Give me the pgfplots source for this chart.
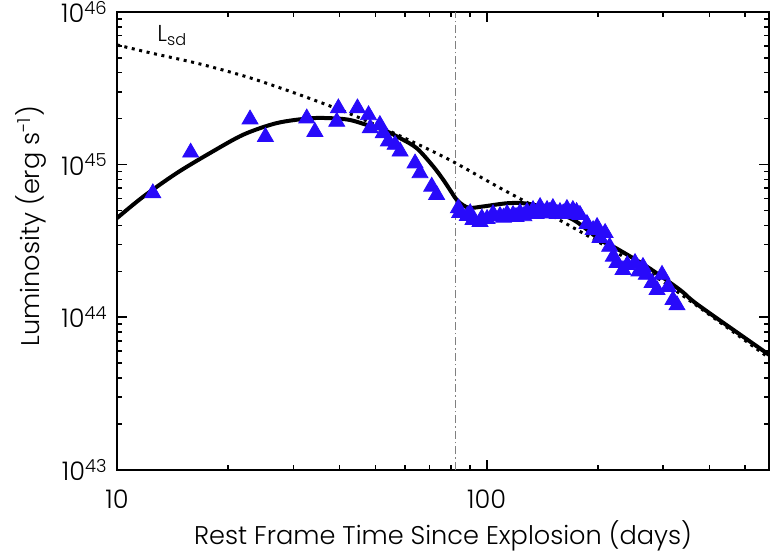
\documentclass[border=0pt]{standalone}
\usepackage{fontspec}
\setmainfont{Poppins}[UprightFont={* Light}]
\usepackage{pgfplots}
\pgfplotsset{compat=1.18}
\definecolor{triblue}{RGB}{40,10,250}
\begin{document}
\fontsize{12.8}{15}\selectfont
\begin{tikzpicture}
\begin{axis}[
  scale only axis, width=326pt, height=229pt,
  xmode=log, ymode=log,
  xmin=10, xmax=580, ymin=1e43, ymax=1e46,
  xtick={10,100}, xticklabels={10,100},
  minor xtick={20,30,40,50,60,70,80,90,200,300,400,500},
  ytick={1e43,1e44,1e45,1e46},
  yticklabels={10\textsuperscript{43},10\textsuperscript{44},10\textsuperscript{45},10\textsuperscript{46}},
  minor ytick={2e43,3e43,4e43,5e43,6e43,7e43,8e43,9e43,2e44,3e44,4e44,5e44,6e44,7e44,8e44,9e44,2e45,3e45,4e45,5e45,6e45,7e45,8e45,9e45},
  tick align=inside, major tick length=5pt, minor tick length=2.5pt,
  every tick/.style={black, line width=0.8pt},
  axis line style={line width=1pt},
  xticklabel style={anchor=north, inner sep=0pt, yshift=-10pt},
  yticklabel style={anchor=east, inner sep=0pt, xshift=-4.5pt},
  xlabel={Rest Frame Time Since Explosion (days)},
  ylabel={Luminosity (erg s\textsuperscript{-1})},
  xlabel style={at={(axis description cs:0.5,0)}, anchor=north, inner sep=0pt, yshift=-25pt},
  ylabel style={at={(axis description cs:0,0.532)}, anchor=center, inner sep=0pt, yshift=43pt},
  clip=true,
]
% vertical dash-dot line
\addplot[gray, line width=0.5pt, dash pattern=on 4pt off 1.5pt on 0.8pt off 1.5pt] coordinates {(82.1,1e43) (82.1,1e46)};
% spin-down luminosity (dotted)
\addplot[black, line width=1.5pt, dash pattern=on 1.5pt off 2.3pt, smooth] coordinates {
(10.00,6.08e45) (12.28,5.40e45) (16.77,4.56e45) (22.90,3.70e45) (31.26,2.86e45)
(42.68,2.15e45) (58.30,1.54e45) (79.58,1.07e45) (108.6,7.03e44) (148.3,4.69e44)
(202.5,3.07e44) (276.5,1.95e44) (377.6,1.15e44) (580.2,5.42e43)};
% data (triangles)
\addplot[only marks, mark=triangle*, mark size=4.6pt, color=triblue, mark options={draw=triblue, fill=triblue}] coordinates {
(12.50,6.50e44) (15.82,1.20e45) (22.9,1.98e45) (25.2,1.52e45) (32.6,2.01e45)
(34.3,1.64e45) (39.7,2.34e45) (39.3,1.91e45) (44.7,2.34e45) (47.9,2.11e45)
(48.4,1.73e45) (51.4,1.82e45) (52.5,1.61e45) (54.2,1.42e45) (56.5,1.35e45)
(58.3,1.22e45) (64.0,1.02e45) (66.0,8.79e44) (71.0,7.18e44) (73.2,6.34e44)
(83.8,5.18e44) (84.5,4.83e44) (88.6,4.61e44) (90.2,4.81e44) (91.8,4.35e44)
(95.9,4.22e44) (97,4.45e44) (100.2,4.41e44) (104,4.75e44) (108.6,4.61e44)
(111,4.50e44) (113.5,4.75e44) (117.8,4.69e44) (120,4.55e44) (123,4.83e44)
(126,4.60e44) (128.5,4.90e44) (133.4,5.05e44) (136,4.75e44) (139.4,5.28e44)
(143,4.80e44) (145.6,5.05e44) (148,4.90e44) (151,5.20e44) (155,4.75e44)
(157.8,4.90e44) (161,4.80e44) (164.8,5.13e44) (168,4.75e44) (171,5.05e44)
(175,4.90e44) (178.7,4.69e44) (186.7,4.09e44) (194,3.73e44) (198.8,3.91e44)
(202.4,3.31e44) (209,3.57e44) (215,2.90e44) (220,2.50e44) (225,2.27e44)
(233.6,2.04e44) (240,2.20e44) (251.8,2.27e44) (258,2.00e44) (264.6,2.14e44)
(270,1.90e44) (280,1.68e44) (288.8,1.51e44) (297.9,1.90e44) (309.6,1.58e44)
(319,1.30e44) (327,1.20e44)};
% model (solid)
\addplot[black, line width=2pt, smooth, tension=0.5] coordinates {
(10,4.46e44) (11.78,6.17e44) (14.50,8.79e44) (17.85,1.19e45) (21.96,1.57e45)
(27.04,1.87e45) (33.27,2.01e45) (38.47,2.01e45) (42.68,1.96e45) (47.35,1.82e45)
(52.53,1.69e45) (58.30,1.49e45) (64.68,1.28e45) (71.72,9.71e44) (76.33,7.94e44)
(79.58,6.82e44) (82.98,5.87e44) (86.44,5.41e44) (90.13,5.20e44) (97.9,5.32e44)
(113.3,5.58e44) (125.7,5.58e44) (139.4,5.31e44) (171.5,4.35e44) (202.5,3.21e44)
(220.0,2.90e44) (270.9,2.15e44) (333.3,1.51e44) (373.6,1.20e44) (580,5.68e43)};
\node[anchor=base west, inner sep=0pt, font=\fontsize{11.5}{13}\selectfont] at (axis cs:12.83,6.37e45) {L\textsubscript{sd}};
\end{axis}
\pgfresetboundingbox
\path ([xshift=-58.5pt,yshift=-41.5pt]current axis.south west) rectangle ([xshift=1pt,yshift=6pt]current axis.north east);
\end{tikzpicture}
\end{document}
